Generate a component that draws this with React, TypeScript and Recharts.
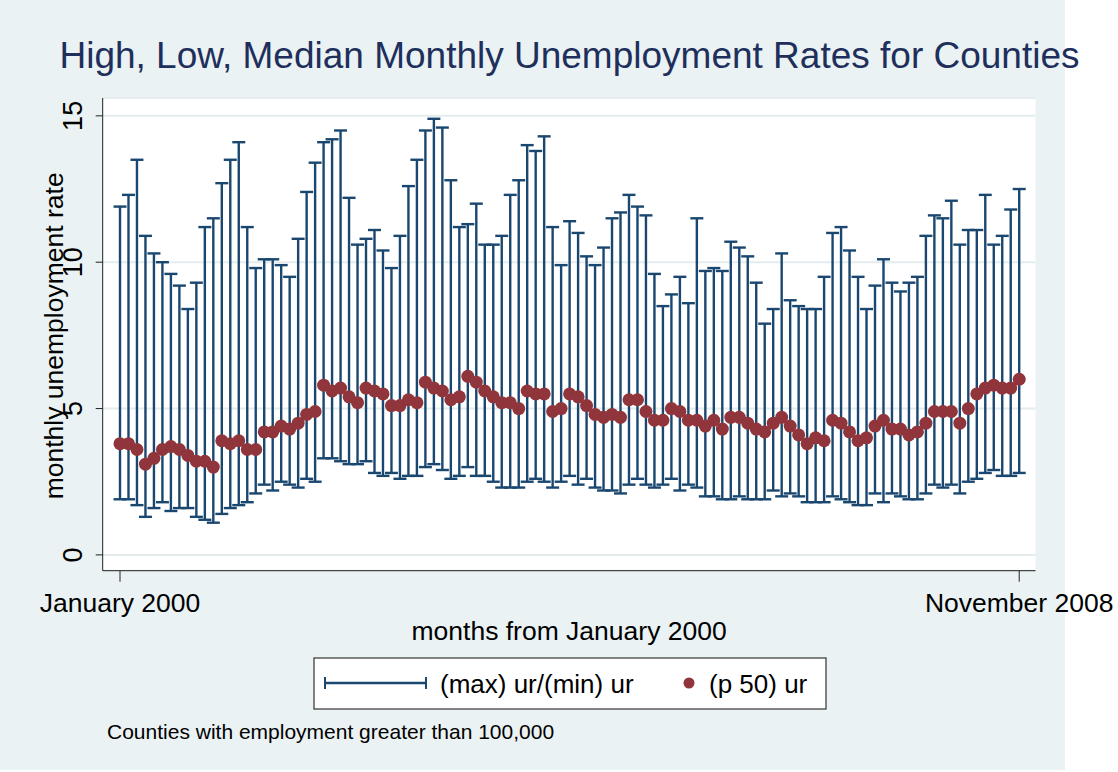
import React from 'react';
import { ScatterChart, Scatter, XAxis, YAxis, CartesianGrid, ErrorBar } from 'recharts';

// monthly county unemployment rate, Jan 2000 .. Nov 2008
const maxUr = [
  11.9, 12.3, 13.5, 10.9, 10.3, 10.0, 9.6, 9.2, 8.4, 9.3, 11.2, 11.5,
  12.7, 13.5, 14.1, 11.2, 9.8, 10.1, 10.1, 9.9, 9.5, 10.8, 12.4, 13.4,
  14.1, 14.2, 14.5, 12.2, 10.6, 10.8, 11.1, 10.4, 9.8, 10.9, 12.6, 13.5,
  14.5, 14.9, 14.6, 12.8, 11.2, 11.3, 12.0, 10.6, 10.6, 10.9, 12.3, 12.8,
  14.0, 13.8, 14.3, 11.2, 9.9, 11.4, 11.0, 10.2, 9.9, 10.5, 11.5, 11.7,
  12.3, 11.9, 11.6, 9.6, 8.5, 8.9, 9.5, 8.6, 11.5, 9.7, 9.8, 9.7,
  10.7, 10.5, 10.2, 9.3, 7.9, 8.4, 10.3, 8.7, 8.5, 8.4, 8.4, 9.5,
  11.0, 11.2, 10.4, 9.5, 8.4, 9.2, 10.1, 9.3, 9.0, 9.3, 9.5, 10.9,
  11.6, 11.5, 12.1, 10.6, 11.1, 11.1, 12.3, 10.6, 10.9, 11.8, 12.5,
];

const minUr = [
  1.9, 1.9, 1.7, 1.3, 1.6, 1.8, 1.5, 1.6, 1.6, 1.3, 1.2, 1.1,
  1.4, 1.6, 1.7, 1.8, 2.1, 2.4, 2.2, 2.5, 2.4, 2.3, 2.6, 2.5,
  3.3, 3.3, 3.2, 3.1, 3.1, 3.2, 2.8, 2.7, 2.8, 2.6, 2.7, 2.7,
  3.0, 3.1, 2.9, 2.6, 2.7, 3.0, 2.7, 2.7, 2.5, 2.3, 2.3, 2.3,
  2.5, 2.6, 2.5, 2.3, 2.5, 2.7, 2.4, 2.6, 2.3, 2.2, 2.2, 2.1,
  2.4, 2.6, 2.4, 2.3, 2.4, 2.6, 2.2, 2.4, 2.3, 2.0, 2.0, 1.9,
  1.9, 2.0, 1.9, 1.9, 1.9, 2.2, 2.0, 2.1, 2.0, 1.8, 1.8, 1.8,
  2.0, 1.9, 1.8, 1.7, 1.7, 2.1, 1.8, 2.1, 2.0, 1.9, 1.9, 2.1,
  2.4, 2.3, 2.4, 2.1, 2.5, 2.6, 2.8, 2.9, 2.7, 2.7, 2.8,
];

const p50Ur = [
  3.8, 3.8, 3.6, 3.1, 3.3, 3.6, 3.7, 3.6, 3.4, 3.2, 3.2, 3.0,
  3.9, 3.8, 3.9, 3.6, 3.6, 4.2, 4.2, 4.4, 4.3, 4.5, 4.8, 4.9,
  5.8, 5.6, 5.7, 5.4, 5.2, 5.7, 5.6, 5.5, 5.1, 5.1, 5.3, 5.2,
  5.9, 5.7, 5.6, 5.3, 5.4, 6.1, 5.9, 5.6, 5.4, 5.2, 5.2, 5.0,
  5.6, 5.5, 5.5, 4.9, 5.0, 5.5, 5.4, 5.1, 4.8, 4.7, 4.8, 4.7,
  5.3, 5.3, 4.9, 4.6, 4.6, 5.0, 4.9, 4.6, 4.6, 4.4, 4.6, 4.3,
  4.7, 4.7, 4.5, 4.3, 4.2, 4.5, 4.7, 4.4, 4.1, 3.8, 4.0, 3.9,
  4.6, 4.5, 4.2, 3.9, 4.0, 4.4, 4.6, 4.3, 4.3, 4.1, 4.2, 4.5,
  4.9, 4.9, 4.9, 4.5, 5.0, 5.5, 5.7, 5.8, 5.7, 5.7, 6.0,
];

const xTickMonths = [0, 106];
const xTickLabels = ['January 2000', 'November 2008'];
const yTicks = [0, 5, 10, 15];

const NAVY = '#1A476F';
const MAROON = '#90353B';
const BG = '#EAF2F3';
const TITLE = '#1E2F5C';
const FONT = '"Liberation Sans", Arial, Helvetica, sans-serif';

const rows = p50Ur.map((v, i) => ({
  m: i,
  p50: v,
  err: [+(v - minUr[i]).toFixed(2), +(maxUr[i] - v).toFixed(2)],
}));

const YTick = (p: any) => (
  <text
    x={p.x}
    y={p.y}
    transform={`rotate(-90 ${p.x} ${p.y})`}
    textAnchor="middle"
    fontSize={27}
    fill="#000"
  >
    {p.payload.value}
  </text>
);

const Dot = (p: any) => <circle cx={p.cx} cy={p.cy} r={6.5} fill={MAROON} />;

const App = () => {
  return (
    <div style={{ position: 'absolute', left: 0, top: 0, width: 1118, height: 772, fontFamily: FONT }}>
      <div style={{ position: 'absolute', left: 0, top: 0, width: 1065, height: 770, background: BG }} />
      <div style={{ position: 'absolute', left: 0, top: 0 }}>
        <ScatterChart width={1118} height={772} margin={{ top: 98, right: 82.5, bottom: 161.3, left: 42.7 }}>
          <CartesianGrid vertical={false} stroke="#E4ECEE" strokeWidth={2} fill="#fff" />
          <XAxis
            dataKey="m"
            type="number"
            domain={[-2.04, 107.92]}
            allowDataOverflow
            ticks={xTickMonths}
            interval={0}
            tickFormatter={(v) => xTickLabels[xTickMonths.indexOf(v)]}
            tickSize={11}
            tickMargin={11}
            height={40}
            tick={{ fontSize: 26.5, fill: '#000' }}
            axisLine={{ stroke: '#222' }}
            tickLine={{ stroke: '#222' }}
            label={{
              content: ({ viewBox }: any) => (
                <text x={viewBox.x + viewBox.width / 2} y={viewBox.y + 69} textAnchor="middle" fontSize={26.5} fill="#000">
                  months from January 2000
                </text>
              ),
            }}
          />
          <YAxis
            dataKey="p50"
            type="number"
            domain={[-0.54, 15.61]}
            allowDataOverflow
            ticks={yTicks}
            interval={0}
            width={60}
            tickSize={7}
            tickMargin={14}
            tick={YTick}
            axisLine={{ stroke: '#222' }}
            tickLine={{ stroke: '#222' }}
            label={{
              content: ({ viewBox }: any) => {
                const cx = viewBox.x + 20.3;
                const cy = viewBox.y + viewBox.height / 2 + 1.5;
                return (
                  <text x={cx} y={cy} transform={`rotate(-90 ${cx} ${cy})`} textAnchor="middle" fontSize={26.5} fill="#000">
                    monthly unemployment rate
                  </text>
                );
              },
            }}
          />
          <Scatter data={rows} dataKey="p50" shape={Dot} isAnimationActive={false}>
            <ErrorBar dataKey="err" direction="y" width={6.5} stroke={NAVY} strokeWidth={2.4} />
          </Scatter>
        </ScatterChart>
      </div>
      <svg width={1118} height={772} style={{ position: 'absolute', left: 0, top: 0, pointerEvents: 'none' }}>
        <text x={569.5} y={68} textAnchor="middle" fontSize={37} fill={TITLE}>
          High, Low, Median Monthly Unemployment Rates for Counties
        </text>
        <rect x={314} y={658} width={512} height={51} fill="#fff" stroke="#333" strokeWidth={1.2} />
        <line x1={325} y1={683} x2={426} y2={683} stroke={NAVY} strokeWidth={2.4} />
        <line x1={325} y1={677} x2={325} y2={689} stroke={NAVY} strokeWidth={2} />
        <line x1={426} y1={677} x2={426} y2={689} stroke={NAVY} strokeWidth={2} />
        <text x={440} y={693} fontSize={26} fill="#000">(max) ur/(min) ur</text>
        <circle cx={689} cy={683} r={5.5} fill={MAROON} />
        <text x={709} y={693} fontSize={26} fill="#000">(p 50) ur</text>
        <text x={107} y={739} fontSize={21} fill="#000">Counties with employment greater than 100,000</text>
      </svg>
    </div>
  );
};

export default App;
